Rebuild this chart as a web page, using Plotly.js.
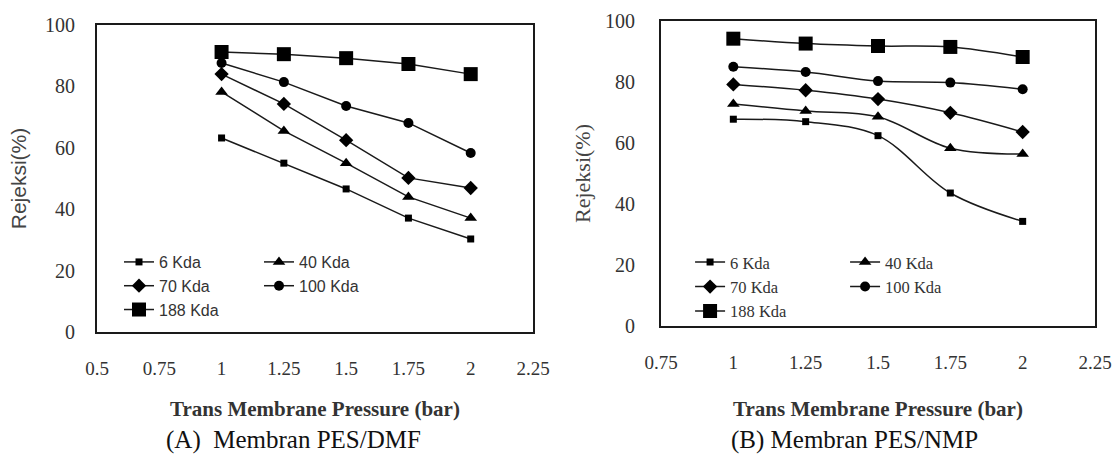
<!DOCTYPE html>
<html>
<head>
<meta charset="utf-8">
<script src="https://cdn.plot.ly/plotly-3.0.1.min.js"></script>
<style>
  html, body { margin: 0; padding: 0; background: #fff; }
  #wrap { position: relative; width: 1116px; height: 454px; }
  #chartA { position: absolute; left: 0; top: 0; width: 558px; height: 454px; }
  #chartB { position: absolute; left: 558px; top: 0; width: 558px; height: 454px; }
</style>
</head>
<body>
<div id="wrap">
  <div id="chartA"></div>
  <div id="chartB"></div>
</div>
<script>
// ---- data ----
const pressure = [1, 1.25, 1.5, 1.75, 2];
const seriesNames = ["6 Kda", "40 Kda", "70 Kda", "100 Kda", "188 Kda"];

// (A) Membran PES/DMF
const dmf6   = [63.2, 55.0, 46.6, 37.1, 30.3];
const dmf40  = [78.2, 65.5, 55.0, 44.0, 37.1];
const dmf70  = [84.0, 74.3, 62.5, 50.2, 46.9];
const dmf100 = [87.6, 81.4, 73.6, 68.1, 58.3];
const dmf188 = [91.2, 90.5, 89.2, 87.3, 84.0];

// (B) Membran PES/NMP
const nmp6   = [67.8, 67.0, 62.4, 43.6, 34.3];
const nmp40  = [72.8, 70.5, 68.6, 58.3, 56.4];
const nmp70  = [79.2, 77.3, 74.4, 69.9, 63.6];
const nmp100 = [85.0, 83.3, 80.3, 79.8, 77.6];
const nmp188 = [94.2, 92.6, 91.8, 91.5, 88.2];

const xTicksA = [0.5, 0.75, 1, 1.25, 1.5, 1.75, 2, 2.25];
const xTicksB = [0.75, 1, 1.25, 1.5, 1.75, 2, 2.25];
const yTicks  = [0, 20, 40, 60, 80, 100];

const xTitle = "Trans Membrane Pressure (bar)";
const yTitle = "Rejeksi(%)";
const captionA = "(A)  Membran PES/DMF";
const captionB = "(B) Membran PES/NMP";

// ---- styles ----
const SERIF = "'Liberation Serif', 'Times New Roman', serif";
const SANS = "'Liberation Sans', Arial, sans-serif";
const TXT = "#333";
const LINE = "#1a1a1a";

const symbols = ["square", "triangle-up", "diamond", "circle", "square"];
const sizesA = [7, 11, 11, 10, 14];
const sizesB = [7, 11, 11, 10, 14];

function makeTraces(valsList, sizes, shape) {
  return valsList.map((vals, i) => ({
    type: "scatter",
    mode: "lines+markers",
    name: seriesNames[i],
    x: pressure,
    y: vals,
    line: { color: LINE, width: 1.5, shape: shape },
    marker: { symbol: symbols[i], size: sizes[i], color: "#000" },
    hoverinfo: "x+y+name"
  }));
}

function makeLayout(opts) {
  return {
    width: 558,
    height: 454,
    margin: Object.assign({ pad: 0, autoexpand: false }, opts.margin),
    paper_bgcolor: "#fff",
    plot_bgcolor: "#fff",
    showlegend: true,
    font: { family: SERIF, color: TXT, size: 18 },
    xaxis: {
      range: opts.xrange,
      tickmode: "array",
      tickvals: opts.xticks,
      ticktext: opts.xticks.map(String),
      showgrid: false,
      zeroline: false,
      showline: true,
      mirror: true,
      linecolor: LINE,
      linewidth: 2,
      ticks: "",
      ticklabelstandoff: 18,
      tickfont: { family: SERIF, size: 19, color: TXT },
      title: { text: xTitle, font: { family: SERIF, size: 21, color: TXT, weight: "bold" }, standoff: opts.xtitleStandoff }
    },
    yaxis: {
      range: [0, 100],
      tickmode: "array",
      tickvals: yTicks,
      ticktext: yTicks.map(String),
      showgrid: false,
      zeroline: false,
      showline: true,
      mirror: true,
      linecolor: LINE,
      linewidth: 2,
      ticks: "",
      ticklabelstandoff: opts.ystandoff,
      tickfont: { family: SERIF, size: 20, color: TXT },
      title: { text: yTitle, font: { family: opts.ytitleFamily, size: opts.ytitleSize, color: "#444" }, standoff: opts.ytitleStandoff }
    },
    legend: {
      orientation: "h",
      x: opts.legendX,
      y: opts.legendY,
      xanchor: "left",
      yanchor: "top",
      bgcolor: "rgba(0,0,0,0)",
      bordercolor: "rgba(0,0,0,0)",
      borderwidth: opts.legendBorder,
      entrywidth: opts.entrywidth,
      entrywidthmode: "pixels",
      font: { family: opts.legendFamily, size: opts.legendSize, color: TXT },
      itemclick: false,
      itemdoubleclick: false
    },
    annotations: [{
      text: opts.caption,
      xref: "paper", yref: "paper",
      x: opts.capX, y: opts.capY,
      xanchor: "center", yanchor: "middle",
      showarrow: false,
      font: { family: SERIF, size: 25, color: "#111" }
    }]
  };
}

const layoutA = makeLayout({
  margin: { l: 97, r: 25, t: 25, b: 122 },
  xrange: [0.5, 2.25],
  xticks: xTicksA,
  xtitleStandoff: 24,
  ystandoff: 16,
  ytitleFamily: SANS,
  ytitleSize: 21,
  ytitleStandoff: 13,
  legendX: 0,
  legendY: 0.355,
  legendBorder: 22,
  entrywidth: 95,
  legendFamily: SANS,
  legendSize: 16,
  caption: captionA,
  capX: 0.45,
  capY: -0.352
});

const layoutB = makeLayout({
  margin: { l: 103, r: 21, t: 21, b: 128 },
  xrange: [0.75, 2.25],
  xticks: xTicksB,
  xtitleStandoff: 30,
  ystandoff: 20,
  ytitleFamily: SERIF,
  ytitleSize: 22,
  ytitleStandoff: 8,
  legendX: 0.067,
  legendY: 0.266,
  legendBorder: 0,
  entrywidth: 110,
  legendFamily: SERIF,
  legendSize: 16.5,
  caption: captionB,
  capX: 0.445,
  capY: -0.374
});

const config = { staticPlot: true, displayModeBar: false };

Plotly.newPlot("chartA", makeTraces([dmf6, dmf40, dmf70, dmf100, dmf188], sizesA, "linear"), layoutA, config);
Plotly.newPlot("chartB", makeTraces([nmp6, nmp40, nmp70, nmp100, nmp188], sizesB, "spline"), layoutB, config);
</script>
</body>
</html>
